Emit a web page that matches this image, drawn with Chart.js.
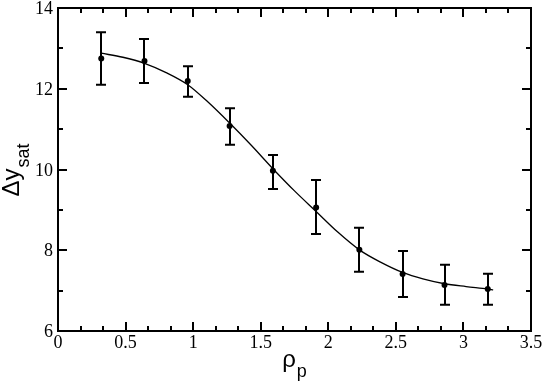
<!DOCTYPE html>
<html>
<head>
<meta charset="utf-8">
<script src="https://cdn.jsdelivr.net/npm/chart.js@4"></script>
<style>
  html, body { margin: 0; padding: 0; background: #fff; }
  #wrap { width: 545px; height: 382px; }
</style>
</head>
<body>
<div id="wrap"><canvas id="satChart" width="545" height="382"></canvas></div>
<script>
// measured points with error bars
const rhoP = [0.32, 0.64, 0.96, 1.27, 1.59, 1.91, 2.23, 2.55, 2.86, 3.18];
const dySat = [12.75, 12.69, 12.19, 11.08, 9.97, 9.06, 8.01, 7.41, 7.14, 7.04];
const dyHigh = [13.40, 13.23, 12.56, 11.52, 10.36, 9.74, 8.56, 7.98, 7.64, 7.42];
const dyLow = [12.10, 12.14, 11.80, 10.61, 9.52, 8.40, 7.47, 6.84, 6.65, 6.65];

// fitted curve
const fitX = [0.32, 0.48, 0.64, 0.80, 0.96, 1.11, 1.27, 1.43, 1.59, 1.75, 1.91, 2.07, 2.23, 2.39, 2.55, 2.70, 2.86, 3.02, 3.18, 3.22];
const fitY = [12.88, 12.78, 12.63, 12.40, 12.10, 11.67, 11.15, 10.60, 10.02, 9.47, 8.96, 8.45, 8.01, 7.70, 7.45, 7.29, 7.17, 7.10, 7.04, 7.02];

const xTicks = [0, 0.5, 1, 1.5, 2, 2.5, 3, 3.5];
const xTickLabels = ['0', '0.5', '1', '1.5', '2', '2.5', '3', '3.5'];
const yTicks = [6, 8, 10, 12, 14];
const yTickLabels = ['6', '8', '10', '12', '14'];

const serif = '"Liberation Serif"';
const sans = '"Liberation Sans"';

// labels, inward ticks, box and error bars are drawn here off the chart's scales
const framePlugin = {
    id: 'frame',
    afterDatasetsDraw(chart) {
        const ctx = chart.ctx;
        const xs = chart.scales.x;
        const ys = chart.scales.y;
        const a = chart.chartArea;

        ctx.save();
        ctx.strokeStyle = '#000';
        ctx.fillStyle = '#000';

        // error bars
        ctx.lineWidth = 2;
        rhoP.forEach((x, i) => {
            const px = Math.round(xs.getPixelForValue(x));
            const top = ys.getPixelForValue(dyHigh[i]);
            const bot = ys.getPixelForValue(dyLow[i]);
            ctx.beginPath();
            ctx.moveTo(px, top); ctx.lineTo(px, bot);
            ctx.moveTo(px - 5, top); ctx.lineTo(px + 5, top);
            ctx.moveTo(px - 5, bot); ctx.lineTo(px + 5, bot);
            ctx.stroke();
        });

        // box
        ctx.strokeRect(a.left, a.top, a.right - a.left, a.bottom - a.top);

        // inward ticks on all four sides
        ctx.beginPath();
        for (let k = 0; k <= 21; k++) {
            const px = Math.round(xs.getPixelForValue(k / 6));
            const len = (k % 3 === 0) ? 9 : 5;
            ctx.moveTo(px, a.bottom); ctx.lineTo(px, a.bottom - len);
            ctx.moveTo(px, a.top); ctx.lineTo(px, a.top + len);
        }
        for (let v = 6; v <= 14; v++) {
            const py = Math.round(ys.getPixelForValue(v));
            const len = (v % 2 === 0) ? 9 : 5;
            ctx.moveTo(a.left, py); ctx.lineTo(a.left + len, py);
            ctx.moveTo(a.right, py); ctx.lineTo(a.right - len, py);
        }
        ctx.stroke();

        // tick labels
        ctx.font = '18px ' + serif;
        ctx.textBaseline = 'alphabetic';
        ctx.textAlign = 'center';
        xTicks.forEach((v, i) => {
            ctx.fillText(xTickLabels[i], xs.getPixelForValue(v), a.bottom + 17);
        });
        ctx.textAlign = 'right';
        yTicks.forEach((v, i) => {
            ctx.fillText(yTickLabels[i], a.left - 5, ys.getPixelForValue(v) + 6);
        });

        // axis titles with subscripts
        ctx.textAlign = 'left';
        ctx.font = '24px ' + sans;
        const wRho = ctx.measureText('ρ').width;
        ctx.font = '18px ' + sans;
        const wP = ctx.measureText('p').width;
        const x0 = (a.left + a.right) / 2 - (wRho + wP + 1) / 2;
        ctx.font = '24px ' + sans;
        ctx.fillText('ρ', x0, 367);
        ctx.font = '18px ' + sans;
        ctx.fillText('p', x0 + wRho + 1, 377);

        ctx.translate(19, 0);
        ctx.rotate(-Math.PI / 2);
        ctx.font = '24px ' + sans;
        const wMain = ctx.measureText('Δy').width;
        ctx.font = '18px ' + sans;
        const wSub = ctx.measureText('sat').width;
        const start = -(170 + (wMain + wSub + 1) / 2);
        ctx.font = '24px ' + sans;
        ctx.fillText('Δy', start, 0);
        ctx.font = '18px ' + sans;
        ctx.fillText('sat', start + wMain + 1, 10);
        ctx.restore();
    }
};

new Chart(document.getElementById('satChart'), {
    type: 'scatter',
    data: {
        datasets: [{
            label: 'fit',
            data: fitX.map((x, i) => ({ x: x, y: fitY[i] })),
            showLine: true,
            borderColor: '#000',
            borderWidth: 1.3,
            pointRadius: 0,
            cubicInterpolationMode: 'monotone'
        }, {
            label: 'data',
            data: rhoP.map((x, i) => ({ x: x, y: dySat[i] })),
            backgroundColor: '#000',
            borderColor: '#000',
            pointRadius: 3,
            pointBorderWidth: 0
        }]
    },
    options: {
        responsive: false,
        animation: false,
        layout: { padding: { top: 8, right: 14, left: 0, bottom: 0 } },
        plugins: {
            legend: { display: false },
            tooltip: { enabled: false }
        },
        scales: {
            x: {
                type: 'linear',
                min: 0, max: 3.5,
                grid: { display: false, drawTicks: false },
                border: { display: false },
                ticks: { display: false },
                afterFit: s => { s.height = 51; s.paddingLeft = 0; s.paddingRight = 0; }
            },
            y: {
                type: 'linear',
                min: 6, max: 14,
                grid: { display: false, drawTicks: false },
                border: { display: false },
                ticks: { display: false },
                afterFit: s => { s.width = 58; s.paddingTop = 0; s.paddingBottom = 0; }
            }
        }
    },
    plugins: [framePlugin]
});
</script>
</body>
</html>
